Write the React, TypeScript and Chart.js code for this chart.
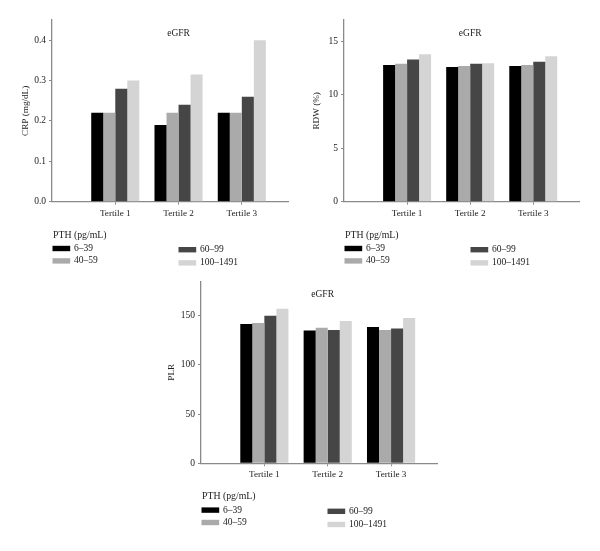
import React, { useEffect, useRef } from 'react';
import { Chart, registerables } from 'chart.js';

Chart.register(...registerables);

// ---------- data ----------
const TERTILES = ['Tertile 1', 'Tertile 2', 'Tertile 3'];
const PTH_GROUPS = ['6–39', '40–59', '60–99', '100–1491'];
const GROUP_COLORS = ['#000000', '#aaaaaa', '#464646', '#d4d4d4'];
const PANEL_TITLE = 'eGFR';
const LEGEND_TITLE = 'PTH (pg/mL)';

// CRP (mg/dL) by tertile, for each PTH group
const CRP_6_39 = [0.22, 0.19, 0.22];
const CRP_40_59 = [0.22, 0.22, 0.22];
const CRP_60_99 = [0.28, 0.24, 0.26];
const CRP_100_1491 = [0.3, 0.315, 0.4];
const CRP_TICKS = [0, 0.1, 0.2, 0.3, 0.4];

// RDW (%) by tertile, for each PTH group
const RDW_6_39 = [12.8, 12.6, 12.7];
const RDW_40_59 = [12.9, 12.7, 12.8];
const RDW_60_99 = [13.3, 12.9, 13.1];
const RDW_100_1491 = [13.8, 12.95, 13.6];
const RDW_TICKS = [0, 5, 10, 15];

// PLR by tertile, for each PTH group
const PLR_6_39 = [141.5, 135, 138.5];
const PLR_40_59 = [142.5, 137.8, 135.4];
const PLR_60_99 = [150, 135.4, 137.1];
const PLR_100_1491 = [157, 144.6, 147.7];
const PLR_TICKS = [0, 50, 100, 150];

// ---------- styling ----------
const FONT = "'Liberation Serif', 'DejaVu Serif', serif";
const TEXT = '#222222';
const AXIS = '#8a8a8a';
const XMAX = 3.73;

const panelDecor = {
  id: 'panelDecor',
  afterDraw(chart: any, _args: any, opts: any) {
    const { ctx, chartArea, scales } = chart;
    ctx.save();
    ctx.fillStyle = TEXT;
    ctx.font = `9.5px ${FONT}`;
    ctx.textAlign = 'center';
    ctx.textBaseline = 'middle';
    ctx.fillText(PANEL_TITLE, scales.x.getPixelForValue(opts.titleAt), chartArea.top + 13);

    const L = chartArea.left;
    const B = chartArea.bottom;
    ctx.textAlign = 'left';
    ctx.font = `9.8px ${FONT}`;
    ctx.fillText(LEGEND_TITLE, L + 1, B + 33.6);
    const pos = [
      [0, 46.8],
      [0, 59.2],
      [126, 48],
      [126, 61.2],
    ];
    ctx.font = `9.5px ${FONT}`;
    chart.data.datasets.forEach((ds: any, i: number) => {
      const [dx, dy] = pos[i];
      ctx.fillStyle = ds.backgroundColor;
      ctx.fillRect(L + 0.5 + dx, B + dy - 2.7, 17.7, 5.4);
      ctx.fillStyle = TEXT;
      ctx.fillText(ds.label, L + 22 + dx, B + dy);
    });
    ctx.restore();
  },
};

type Spec = {
  series: number[][];
  ticks: number[];
  decimals: number;
  yMax: number;
  yTitle: string;
  left: number;
  top: number;
  width: number;
  height: number;
  padTop: number;
  padRight: number;
  padBottom: number;
  yWidth: number;
  yTitlePad: number;
  titleAt: number;
};

function buildConfig(s: Spec): any {
  return {
    type: 'bar',
    data: {
      datasets: s.series.map((vals, i) => ({
        label: PTH_GROUPS[i],
        data: vals.map((v, j) => ({ x: j + 1, y: v })),
        backgroundColor: GROUP_COLORS[i],
        borderWidth: 0,
        categoryPercentage: 0.76,
        barPercentage: 1,
      })),
    },
    options: {
      responsive: false,
      animation: false,
      events: [],
      layout: { padding: { left: 0, top: s.padTop, right: s.padRight, bottom: s.padBottom } },
      plugins: {
        legend: { display: false },
        title: { display: false },
        tooltip: { enabled: false },
        panelDecor: { titleAt: s.titleAt },
      },
      scales: {
        x: {
          type: 'linear',
          min: 0,
          max: XMAX,
          offset: false,
          grid: { display: true, drawOnChartArea: false, drawTicks: true, tickLength: 3, color: AXIS, offset: false, lineWidth: 1 },
          border: { display: true, color: AXIS, width: 1.3 },
          afterBuildTicks: (sc: any) => {
            sc.ticks = TERTILES.map((_, i) => ({ value: i + 1 }));
          },
          afterFit: (sc: any) => {
            sc.height = 22;
          },
          ticks: {
            callback: (v: number) => TERTILES[Math.round(v) - 1],
            font: { family: FONT, size: 9.2 },
            color: TEXT,
            padding: 3,
            maxRotation: 0,
            autoSkip: false,
          },
        },
        y: {
          type: 'linear',
          min: 0,
          max: s.yMax,
          grid: { display: true, drawOnChartArea: false, drawTicks: true, tickLength: 3, color: AXIS, lineWidth: 1 },
          border: { display: true, color: AXIS, width: 1.3 },
          afterBuildTicks: (sc: any) => {
            sc.ticks = s.ticks.map((v) => ({ value: v }));
          },
          afterFit: (sc: any) => {
            sc.width = s.yWidth;
          },
          ticks: {
            callback: (v: number) => v.toFixed(s.decimals),
            font: { family: FONT, size: 9.5 },
            color: TEXT,
            padding: 3,
          },
          title: {
            display: true,
            text: s.yTitle,
            font: { family: FONT, size: 9.2 },
            color: TEXT,
            padding: { top: s.yTitlePad, bottom: 0 },
          },
        },
      },
    },
    plugins: [panelDecor],
  };
}

const PANELS: Spec[] = [
  {
    series: [CRP_6_39, CRP_40_59, CRP_60_99, CRP_100_1491],
    ticks: CRP_TICKS,
    decimals: 1,
    yMax: 0.45,
    yTitle: 'CRP (mg/dL)',
    left: 0,
    top: 0,
    width: 300,
    height: 280,
    padTop: 20,
    padRight: 12,
    padBottom: 56.3,
    yWidth: 52,
    yTitlePad: 19.6,
    titleAt: 2,
  },
  {
    series: [RDW_6_39, RDW_40_59, RDW_60_99, RDW_100_1491],
    ticks: RDW_TICKS,
    decimals: 0,
    yMax: 17,
    yTitle: 'RDW (%)',
    left: 300,
    top: 0,
    width: 300,
    height: 280,
    padTop: 20,
    padRight: 20.7,
    padBottom: 56.3,
    yWidth: 44,
    yTitlePad: 11.3,
    titleAt: 2,
  },
  {
    series: [PLR_6_39, PLR_40_59, PLR_60_99, PLR_100_1491],
    ticks: PLR_TICKS,
    decimals: 0,
    yMax: 185,
    yTitle: 'PLR',
    left: 150,
    top: 270,
    width: 300,
    height: 281,
    padTop: 11.3,
    padRight: 12.7,
    padBottom: 65.7,
    yWidth: 51,
    yTitlePad: 16.3,
    titleAt: 1.92,
  },
];

function Panel({ spec }: { spec: Spec }) {
  const ref = useRef<HTMLCanvasElement | null>(null);
  useEffect(() => {
    if (!ref.current) return;
    const chart = new Chart(ref.current, buildConfig(spec));
    return () => chart.destroy();
  }, [spec]);
  return (
    <canvas
      ref={ref}
      width={spec.width}
      height={spec.height}
      style={{ position: 'absolute', left: spec.left, top: spec.top, width: spec.width, height: spec.height }}
    />
  );
}

export default function App() {
  return (
    <div style={{ position: 'absolute', left: 0, top: 0, width: 600, height: 551, background: '#ffffff', overflow: 'hidden' }}>
      {PANELS.map((p, i) => (
        <Panel key={i} spec={p} />
      ))}
    </div>
  );
}
